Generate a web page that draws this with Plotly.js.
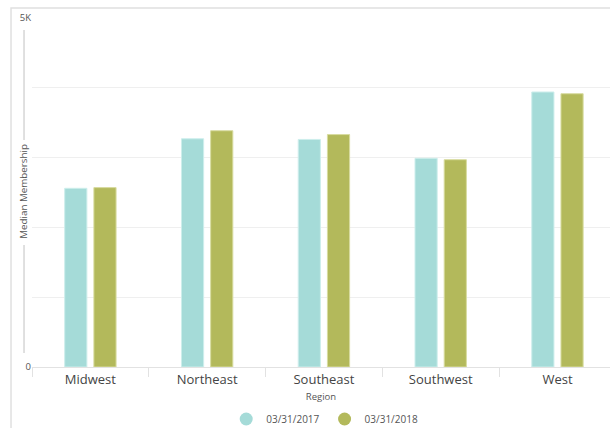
<!DOCTYPE html>
<html>
<head>
<meta charset="utf-8">
<script src="https://cdn.plot.ly/plotly-3.0.1.min.js"></script>
<style>html,body{margin:0;padding:0;background:#fff;}#chart{width:610px;height:428px;}</style>
</head>
<body>
<div id="chart"></div>
<script>
const regions = ['Midwest', 'Northeast', 'Southeast', 'Southwest', 'West'];
const seriesNames = ['03/31/2017', '03/31/2018'];
const values2017 = [2560, 3270, 3260, 2990, 3940];
const values2018 = [2570, 3385, 3330, 2970, 3915];
const yTickVals = [0, 5000];
const yTickText = ['0', '5K'];

const colors = ['#a5dbd8', '#b3b95b'];
const edges = ['#cdeeec', '#d8dca0'];
const font = 'Open Sans, Lato, sans-serif';

const traces = [
  {type: 'bar', x: regions, y: values2017, name: seriesNames[0], showlegend: false,
   marker: {color: colors[0], line: {color: edges[0], width: 1}}, hoverinfo: 'x+y'},
  {type: 'bar', x: regions, y: values2018, name: seriesNames[1], showlegend: false,
   marker: {color: colors[1], line: {color: edges[1], width: 1}}, hoverinfo: 'x+y'},
  {type: 'scatter', mode: 'markers', x: [null], y: [null], name: seriesNames[0],
   marker: {color: colors[0], size: 13, symbol: 'circle'}},
  {type: 'scatter', mode: 'markers', x: [null], y: [null], name: seriesNames[1],
   marker: {color: colors[1], size: 13, symbol: 'circle'}}
];

const layout = {
  width: 610, height: 428,
  margin: {l: 32, r: 0, t: 18, b: 61, autoexpand: false},
  paper_bgcolor: '#fff', plot_bgcolor: '#fff',
  font: {family: font, color: '#555'},
  barmode: 'group', bargap: 0.5, bargroupgap: 0.24,
  xaxis: {
    type: 'category', range: [-0.5, 4.45], fixedrange: true, automargin: false,
    showline: true, linecolor: '#e2e2e2', linewidth: 1,
    ticks: 'outside', tickson: 'boundaries', ticklen: 9, tickcolor: '#e2e2e2',
    tickfont: {size: 13, color: '#444'},
    showgrid: false, zeroline: false,
    title: {text: 'Region', font: {size: 9.5, color: '#555'}, standoff: 6}
  },
  yaxis: {
    range: [0, 5000], fixedrange: true, automargin: false,
    tickvals: yTickVals, ticktext: yTickText,
    tickfont: {size: 9.5, color: '#555'},
    ticks: '', ticklabelstandoff: 0,
    showgrid: true, gridcolor: '#efefef', gridwidth: 1,
    minor: {dtick: 1000, showgrid: true, gridcolor: '#efefef', gridwidth: 1},
    zeroline: false, showline: false,
    title: {text: ''}
  },
  legend: {
    orientation: 'h', x: 0.336, xanchor: 'left', y: -0.149, yanchor: 'middle',
    font: {size: 10, color: '#555'}, itemwidth: 30, tracegroupgap: 0
  },
  annotations: [
    {xref: 'paper', yref: 'paper', x: -0.0138, y: 0.502, text: 'Median Membership',
     textangle: -90, showarrow: false, font: {size: 9.8, color: '#555'}, xanchor: 'center', yanchor: 'middle'}
  ],
  shapes: [
    {type: 'rect', xref: 'paper', yref: 'paper', x0: -0.0363, x1: 1.05, y0: -0.25, y1: 1.0287,
     line: {color: '#e0e0e0', width: 1.5}, layer: 'below'},
    {type: 'line', xref: 'paper', yref: 'paper', x0: -0.0138, x1: -0.0138, y0: 0.6504, y1: 0.9656,
     line: {color: '#d6d6d6', width: 1.5}},
    {type: 'line', xref: 'paper', yref: 'paper', x0: -0.0138, x1: -0.0138, y0: 0.04, y1: 0.3496,
     line: {color: '#d6d6d6', width: 1.5}}
  ]
};

Plotly.newPlot('chart', traces, layout, {displayModeBar: false, staticPlot: true});
</script>
</body>
</html>
